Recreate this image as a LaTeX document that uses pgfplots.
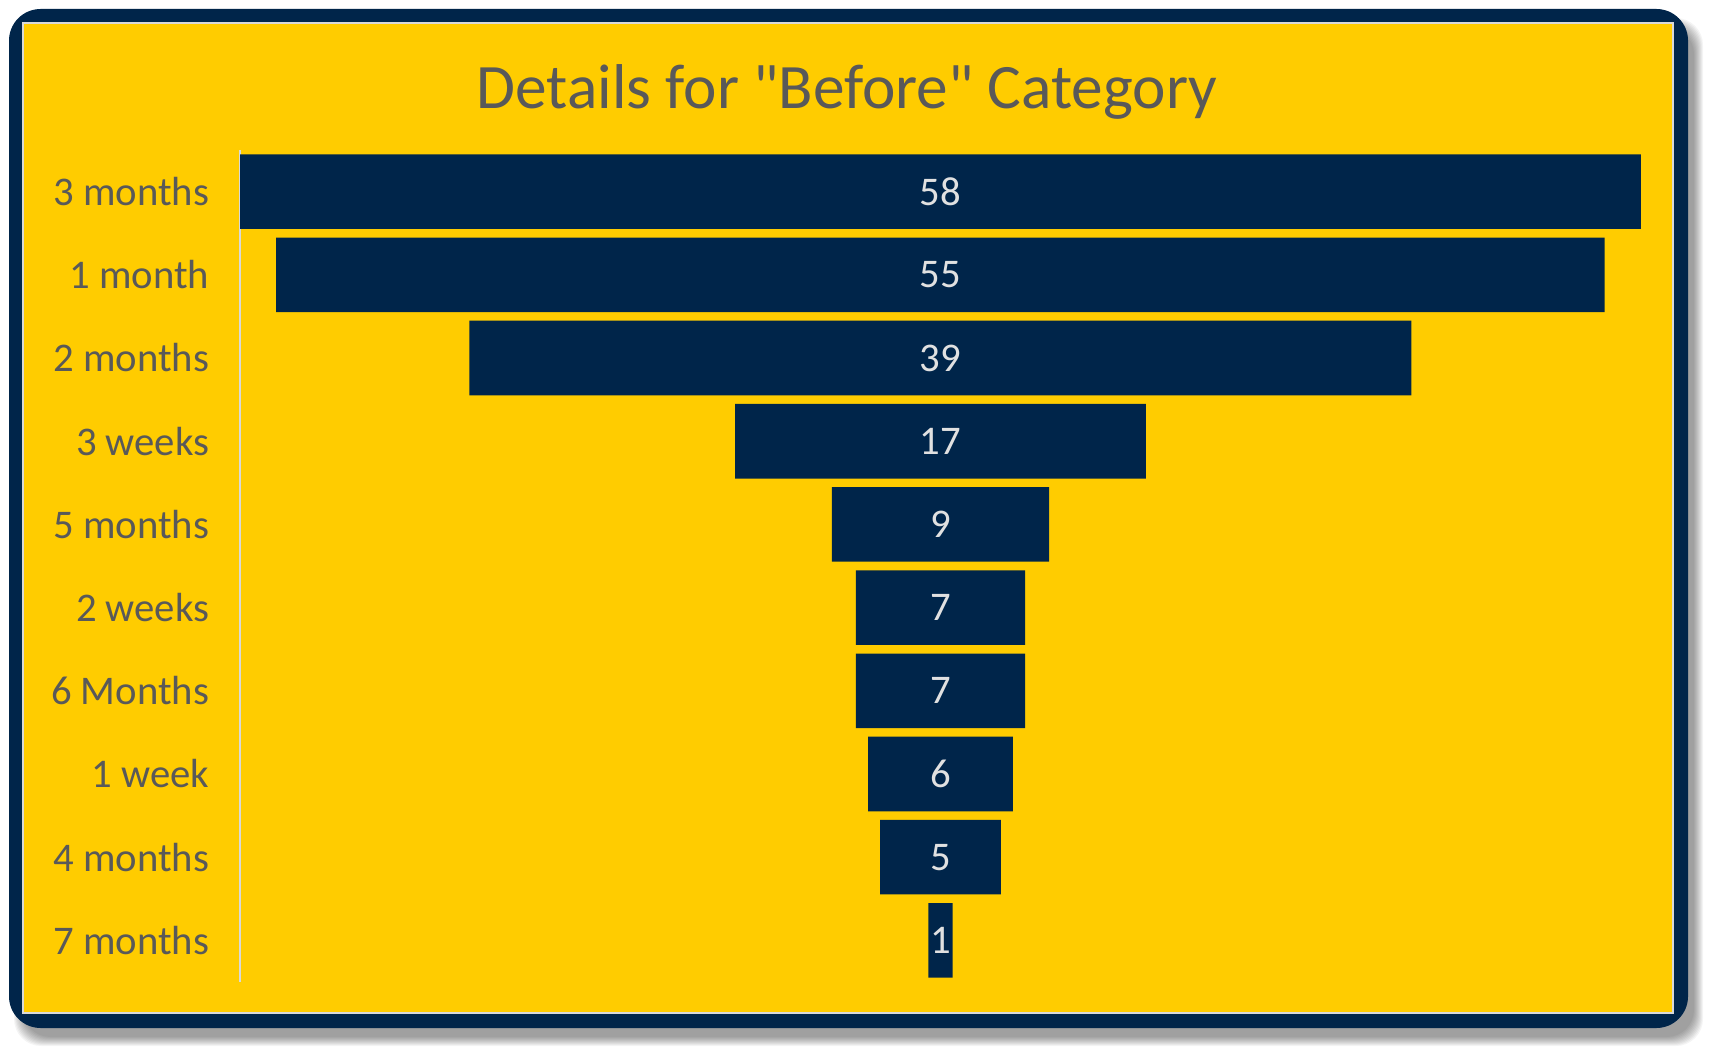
\documentclass[border=0pt]{standalone}
\usepackage{pgfplots}
\pgfplotsset{compat=1.18}
\usepackage{pgfplotstable}
\usepackage{fontspec}
\setmainfont{Carlito}[Ligatures=TeXOff]
\definecolor{navy}{RGB}{0,37,74}
\definecolor{gold}{RGB}{255,204,0}
\definecolor{txt}{RGB}{89,89,89}
\definecolor{lgray}{RGB}{217,217,217}
\definecolor{barlbl}{RGB}{225,225,225}

\pgfplotstableread{
y v
0 58
1 55
2 39
3 17
4 9
5 7
6 7
7 6
8 5
9 1
}\funneldata

\begin{document}
\begin{tikzpicture}
\begin{scope}[x=0.2212pt,y=-0.2212pt]
  % page size
  \fill[white] (0,0) rectangle (1718,1058);
  % shadow
  \foreach \i in {0,...,9}{
    \fill[black,opacity=0.045,rounded corners=6] (14+\i,18+\i) rectangle (1703-\i,1046-\i);
  }
  % dark frame
  \fill[navy,rounded corners=7] (9,9) rectangle (1688,1028);
  % yellow plot area
  \fill[gold,draw=lgray,line width=0.4pt] (23,23) rectangle (1673,1013);
  % title
  \node[anchor=base,text=txt,font=\fontsize{14}{17}\selectfont,inner sep=0pt] at (847,109) {Details for "Before" Category};
\end{scope}
\begin{axis}[
  at={(53.09pt,-217.22pt)}, anchor=south west,
  width=309.90pt, height=184.04pt, scale only axis,
  xmin=0, xmax=58, ymin=-0.5, ymax=9.5,
  y dir=reverse,
  xbar stacked, bar width=16.5pt,
  axis lines*=left,
  x axis line style={draw=none},
  y axis line style={draw=lgray,line width=0.45pt},
  xtick=\empty,
  ytick={0,...,9},
  yticklabels={3 months,1 month,2 months,3 weeks,5 months,2 weeks,6 Months,1 week,4 months,7 months},
  major tick length=0pt,
  yticklabel style={font=\fontsize{9}{11}\selectfont,text=txt,xshift=-3.3pt},
  /pgf/number format/assume math mode=true,
  clip=false,
]
\addplot[draw=none,fill=none] table[x expr={(58-\thisrow{v})/2}, y=y] {\funneldata};
\addplot[draw=none,fill=navy,
  point meta=explicit,
  nodes near coords,
  nodes near coords style={anchor=center,text=barlbl,font=\fontsize{9}{11}\selectfont},
] table[x=v, y=y, meta=v] {\funneldata};
\end{axis}
\end{tikzpicture}
\end{document}
